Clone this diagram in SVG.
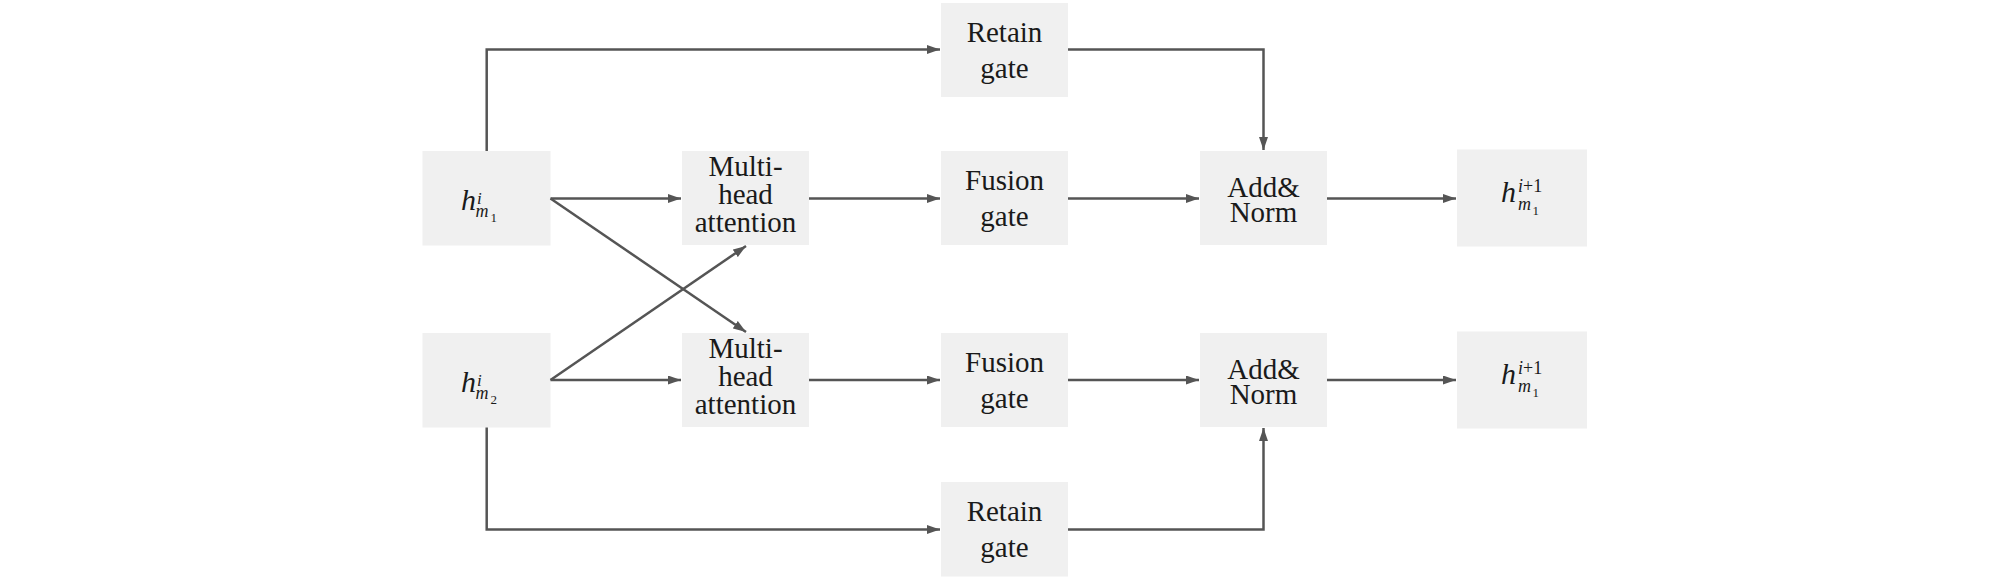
<svg xmlns="http://www.w3.org/2000/svg" width="2008" height="579" viewBox="0 0 2008 579">
<style>
.box{fill:#f0f0f0;}
.lbl{font-family:"Liberation Serif","Times New Roman",serif;font-size:29px;fill:#1a1a1a;text-anchor:middle;}
.math{font-family:"Liberation Serif","Times New Roman",serif;fill:#1a1a1a;font-style:italic;}
.up{font-style:normal;}
.conn{fill:none;stroke:#555;stroke-width:2.5;marker-end:url(#arr);}
</style>
<defs>
<marker id="arr" viewBox="0 0 13 9" refX="13" refY="4.5" markerWidth="13" markerHeight="9" orient="auto" markerUnits="userSpaceOnUse">
<path d="M0,0 L13,4.5 L0,9 z" fill="#555"/>
</marker>
</defs>
<rect width="2008" height="579" fill="#fff"/>
<g id="h_m1">
<rect class="box" x="422.5" y="151" width="128" height="94.5"/>
<text class="math" x="461" y="210" font-size="30">h<tspan x="477" y="204" font-size="17">i</tspan><tspan x="475.5" y="217" font-size="18">m</tspan><tspan class="up" x="490.5" y="222" font-size="13">1</tspan></text>
</g>
<g id="h_m2">
<rect class="box" x="422.5" y="333" width="128" height="94.5"/>
<text class="math" x="461" y="392" font-size="30">h<tspan x="477" y="386" font-size="17">i</tspan><tspan x="475.5" y="399" font-size="18">m</tspan><tspan class="up" x="490.5" y="404" font-size="13">2</tspan></text>
</g>
<g id="mha1">
<rect class="box" x="682" y="151" width="127" height="94"/>
<text class="lbl" x="745.5" y="176">Multi-<tspan x="745.5" y="204">head</tspan><tspan x="745.5" y="232">attention</tspan></text>
</g>
<g id="mha2">
<rect class="box" x="682" y="333" width="127" height="94"/>
<text class="lbl" x="745.5" y="358">Multi-<tspan x="745.5" y="386">head</tspan><tspan x="745.5" y="414">attention</tspan></text>
</g>
<g id="retain1">
<rect class="box" x="941" y="3" width="127" height="94"/>
<text class="lbl" x="1004.5" y="42">Retain</text>
<text class="lbl" x="1004.5" y="78">gate</text>
</g>
<g id="fusion1">
<rect class="box" x="941" y="151" width="127" height="94"/>
<text class="lbl" x="1004.5" y="190">Fusion</text>
<text class="lbl" x="1004.5" y="226">gate</text>
</g>
<g id="fusion2">
<rect class="box" x="941" y="333" width="127" height="94"/>
<text class="lbl" x="1004.5" y="372">Fusion</text>
<text class="lbl" x="1004.5" y="408">gate</text>
</g>
<g id="retain2">
<rect class="box" x="941" y="482" width="127" height="94.5"/>
<text class="lbl" x="1004.5" y="521">Retain</text>
<text class="lbl" x="1004.5" y="557">gate</text>
</g>
<g id="addnorm1">
<rect class="box" x="1200" y="151" width="127" height="94"/>
<text class="lbl" x="1263.5" y="197">Add&amp;<tspan x="1263.5" y="222">Norm</tspan></text>
</g>
<g id="addnorm2">
<rect class="box" x="1200" y="333" width="127" height="94"/>
<text class="lbl" x="1263.5" y="379">Add&amp;<tspan x="1263.5" y="404">Norm</tspan></text>
</g>
<g id="out1">
<rect class="box" x="1457" y="149.5" width="130" height="97"/>
<text class="math" x="1501" y="202" font-size="30">h<tspan x="1518" y="192" font-size="18">i</tspan><tspan class="up" font-size="18">+1</tspan><tspan x="1518" y="210" font-size="18">m</tspan><tspan class="up" x="1532.5" y="215" font-size="13">1</tspan></text>
</g>
<g id="out2">
<rect class="box" x="1457" y="331.5" width="130" height="97"/>
<text class="math" x="1501" y="384" font-size="30">h<tspan x="1518" y="374" font-size="18">i</tspan><tspan class="up" font-size="18">+1</tspan><tspan x="1518" y="392" font-size="18">m</tspan><tspan class="up" x="1532.5" y="397" font-size="13">1</tspan></text>
</g>
<g id="connectors">
<path class="conn" d="M486.7 151 V49.5 H940"/>
<path class="conn" d="M1068 49.5 H1263.5 V150"/>
<path class="conn" d="M550.5 198.5 H681"/>
<path class="conn" d="M809 198.5 H940"/>
<path class="conn" d="M1068 198.5 H1199"/>
<path class="conn" d="M1327 198.5 H1456"/>
<path class="conn" d="M550.5 198.5 L746 332"/>
<path class="conn" d="M550.5 380 L746 246"/>
<path class="conn" d="M550.5 380 H681"/>
<path class="conn" d="M809 380 H940"/>
<path class="conn" d="M1068 380 H1199"/>
<path class="conn" d="M1327 380 H1456"/>
<path class="conn" d="M486.7 427.5 V529.5 H940"/>
<path class="conn" d="M1068 529.5 H1263.5 V428"/>
</g>
</svg>
